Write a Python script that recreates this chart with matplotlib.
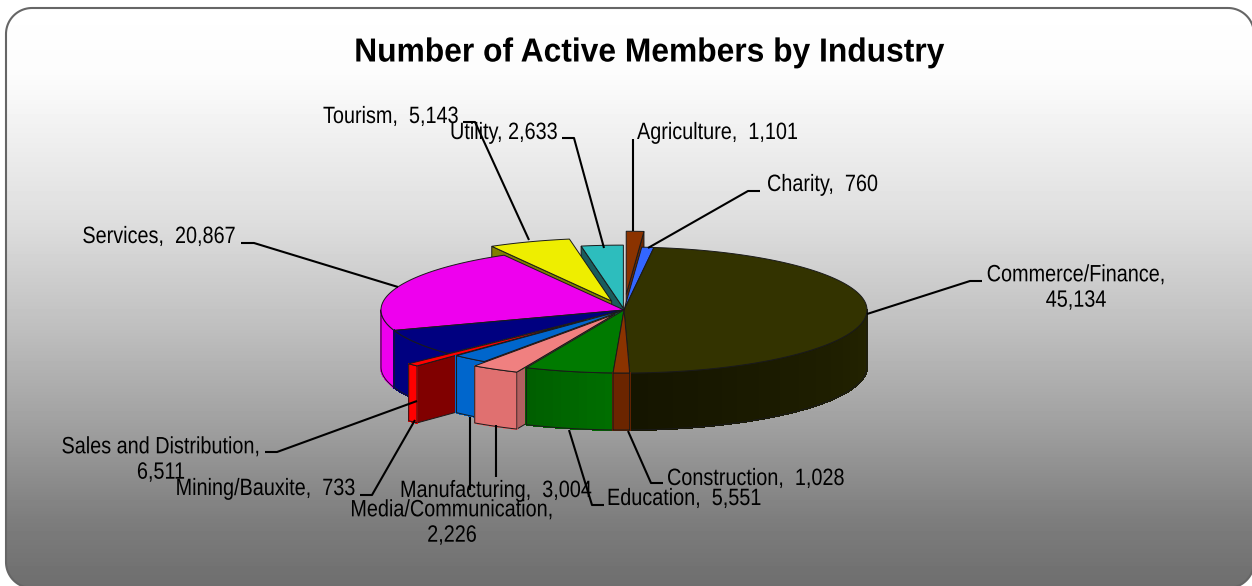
import numpy as np
import matplotlib
matplotlib.use("Agg")
import matplotlib.pyplot as plt
from matplotlib.colors import to_rgb
from matplotlib.patches import Polygon
from matplotlib.patheffects import AbstractPathEffect
from matplotlib.transforms import Affine2D

plt.rcParams['font.family'] = ['Liberation Sans', 'DejaVu Sans']

# slice data, clockwise from twelve o'clock
names = ["Agriculture", "Charity", "Commerce/Finance", "Construction", "Education",
         "Manufacturing", "Media/Communication", "Mining/Bauxite",
         "Sales and Distribution", "Services", "Tourism", "Utility"]
members = [1101, 760, 45134, 1028, 5551, 3004, 2226, 733, 6511, 20867, 5143, 2633]
explode = [0.25, 0, 0, 0, 0, 0.08, 0, 0.23, 0, 0, 0.15, 0.03]

top_colors = ["#8b3300", "#3366ff", "#333300", "#8b3300", "#007a00", "#f08080",
              "#0066cc", "#ff0000", "#000080", "#ee00ee", "#eeee00", "#2dbdbd"]
wall_start = ["#6b2500", "#2a50cc", "#242400", "#6b2500", "#006e00", "#e07070",
              "#0066cc", "#ff0000", "#000080", "#ee00ee", "#bbbb00", "#1a5c5c"]
wall_end = ["#6b2500", "#2a50cc", "#151500", "#6b2500", "#005f00", "#e07070",
            "#0066cc", "#ff0000", "#000080", "#ee00ee", "#bbbb00", "#1a5c5c"]
cut_colors = ["#6e2800", "#2a50cc", "#222200", "#6b2500", "#005f00", "#b06060",
              "#0066cc", "#800000", "#000080", "#aa00aa", "#808000", "#1a5c5c"]

# back to front
draw_order = [0, 11, 10, 1, 2, 9, 8, 7, 6, 5, 4, 3]

# pie geometry in pixels
CX, CY = 624, 310
RX, RY = 243, 63
DEPTH = 57

label_layout = {
    "Agriculture": (637, 133, "left"),
    "Charity": (767, 185, "left"),
    "Commerce/Finance": (1076, 288, "center"),
    "Construction": (667, 479, "left"),
    "Education": (607, 499, "left"),
    "Manufacturing": (400, 491, "left"),
    "Media/Communication": (452, 523, "center"),
    "Mining/Bauxite": (356, 489, "right"),
    "Sales and Distribution": (161, 460, "center"),
    "Services": (236, 237, "right"),
    "Tourism": (323, 117, "left"),
    "Utility": (450, 133, "left"),
}
two_line = ["Commerce/Finance", "Media/Communication", "Sales and Distribution"]

leaders = [
    [(633, 139), (633, 231)],
    [(760, 191), (748, 191), (648, 248)],
    [(867, 314), (970, 281), (982, 281)],
    [(628, 431), (651, 483), (663, 483)],
    [(569, 430), (592, 505), (604, 505)],
    [(496, 425), (496, 477)],
    [(470, 417), (470, 490)],
    [(415, 420), (372, 495), (360, 495)],
    [(417, 401), (277, 452), (265, 452)],
    [(398, 287), (254, 243), (241, 243)],
    [(529, 240), (475, 122), (463, 122)],
    [(604, 248), (574, 138), (562, 138)],
]

bg_y = [0, 75, 220, 330, 430, 520, 586]
bg_level = [255, 252, 222, 190, 158, 125, 110]


class Squeeze(AbstractPathEffect):
    """Narrow the glyphs horizontally around a fixed pixel column."""

    def __init__(self, pivot, factor):
        super().__init__()
        self.pivot = pivot
        self.factor = factor

    def draw_path(self, renderer, gc, tpath, affine, rgbFace=None):
        squeeze = Affine2D().translate(-self.pivot, 0).scale(self.factor, 1).translate(self.pivot, 0)
        renderer.draw_path(gc, tpath, affine + squeeze, rgbFace)


def ring_point(theta, off):
    rad = np.radians(theta)
    return (CX + off[0] + RX * np.sin(rad), CY + off[1] - RY * np.cos(rad))


def rounded_outline(x0, y0, x1, y1, r):
    corners = [(x1 - r, y0 + r, -90), (x1 - r, y1 - r, 0), (x0 + r, y1 - r, 90), (x0 + r, y0 + r, 180)]
    pts = []
    for cx, cy, a0 in corners:
        t = np.radians(np.linspace(a0, a0 + 90, 24))
        pts.extend(zip(cx + r * np.cos(t), cy + r * np.sin(t)))
    return pts


fig = plt.figure(figsize=(12.52, 5.86), dpi=100)
ax = fig.add_axes([0, 0, 1, 1])
ax.axis("off")

# rounded panel with a vertical grey fade
levels = np.interp(np.arange(586), bg_y, bg_level) / 255
fade = ax.imshow(levels[:, None], extent=(0, 1252, 586, 0), cmap="gray", vmin=0, vmax=1,
                 aspect="auto", zorder=0)
panel = Polygon(rounded_outline(6, 8, 1254, 588, 26), closed=True, facecolor="none",
                edgecolor="#666666", linewidth=1.5, zorder=1)
ax.add_patch(panel)
fade.set_clip_path(panel)
ax.set_xlim(0, 1252)
ax.set_ylim(586, 0)

edge = dict(edgecolor="#1a1a1a", linewidth=0.7)
shares = np.array(members) / sum(members) * 360
starts = np.concatenate(([0], np.cumsum(shares)[:-1]))
z = 2
for i in draw_order:
    t0, t1 = starts[i], starts[i] + shares[i]
    mid = np.radians((t0 + t1) / 2)
    off = (explode[i] * RX * np.sin(mid), -explode[i] * RY * np.cos(mid))
    apex = (CX + off[0], CY + off[1])

    # cut faces of pulled-out slices
    if explode[i] > 0:
        cut_angle = t0 if t0 > 180 else t1
        p = ring_point(cut_angle, off)
        ax.add_patch(Polygon([p, (p[0], p[1] + DEPTH), (apex[0], apex[1] + DEPTH), apex],
                             facecolor=cut_colors[i], zorder=z, **edge))
        z += 1

    # outer wall, only the part facing the viewer
    w0, w1 = max(t0, 90), min(t1, 270)
    if w1 > w0:
        steps = max(int((w1 - w0) / 2), 1)
        edges = np.linspace(w0, w1, steps + 1)
        c0, c1 = np.array(to_rgb(wall_start[i])), np.array(to_rgb(wall_end[i]))
        for k in range(steps):
            a, b = ring_point(edges[k], off), ring_point(edges[k + 1], off)
            col = c0 + (c1 - c0) * k / max(steps - 1, 1)
            ax.add_patch(Polygon([a, b, (b[0], b[1] + DEPTH), (a[0], a[1] + DEPTH)],
                                 facecolor=col, edgecolor=col, linewidth=0.8,
                                 antialiased=False, zorder=z))
            z += 1
        arc = np.linspace(w0, w1, 40)
        outline = [ring_point(t, off) for t in arc]
        outline += [(x, y + DEPTH) for x, y in outline[::-1]]
        ax.add_patch(Polygon(outline, facecolor="none", zorder=z, **edge))
        z += 1

    # top face
    arc = np.linspace(t0, t1, max(int(shares[i]), 2) + 1)
    ax.add_patch(Polygon([apex] + [ring_point(t, off) for t in arc],
                         facecolor=top_colors[i], zorder=z, **edge))
    z += 1

for path in leaders:
    xs, ys = zip(*path)
    ax.plot(xs, ys, color="black", linewidth=1.5, solid_capstyle="butt", zorder=z)
z += 1

for name, value in zip(names, members):
    x, y, ha = label_layout[name]
    if name in two_line:
        gap = "\n"
    elif name == "Utility":
        gap = " "
    else:
        gap = "  "
    ax.text(x, y, f"{name},{gap}{value:,}", ha=ha, va="center", ma="center",
            fontsize=17, color="black", linespacing=1.2, zorder=z,
            path_effects=[Squeeze(x, 0.84)])

ax.text(650, 53, "Number of Active Members by Industry", ha="center", va="center",
        fontsize=24, fontweight="bold", color="black", zorder=z,
        path_effects=[Squeeze(650, 0.953)])

fig.savefig("out.png", dpi=100)
